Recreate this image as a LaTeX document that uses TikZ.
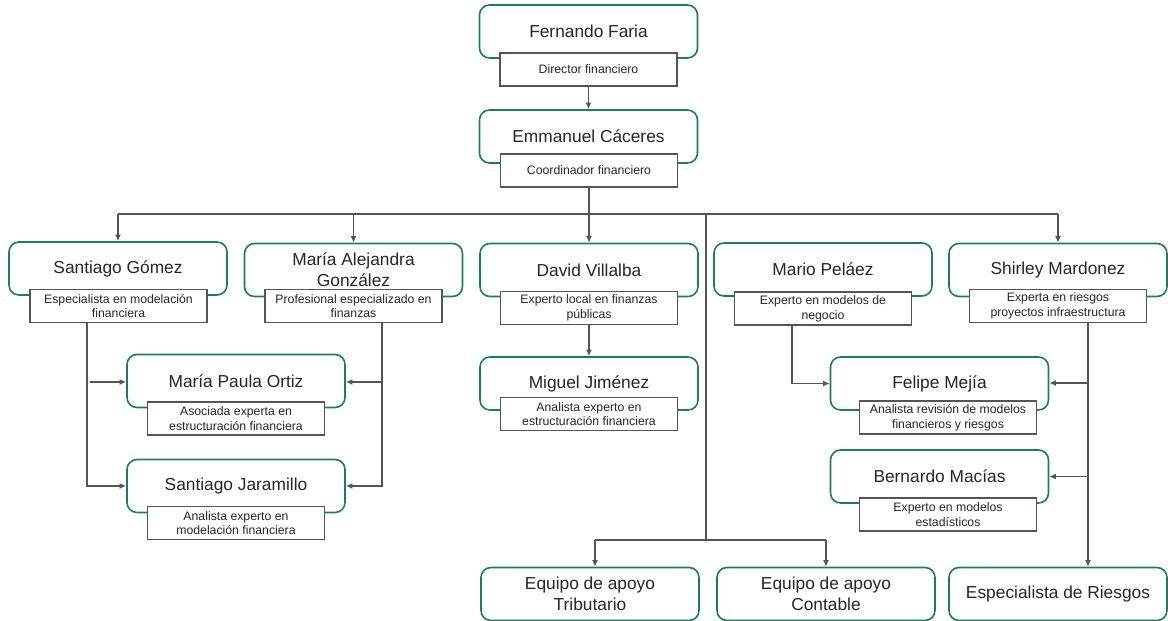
\documentclass[tikz,border=0pt]{standalone}
\usepackage{fontspec}
\setmainfont{Liberation Sans}
\usepackage{tikz}
\usetikzlibrary{arrows.meta}
\definecolor{verde}{RGB}{28,124,98}
\definecolor{gris}{RGB}{85,85,85}

\begin{document}
\begin{tikzpicture}[x=0.75pt,y=-0.75pt,>={Latex[length=5pt,width=4.5pt]},draw=gris]
    \tikzstyle{persona}=[draw=verde,line width=1.2pt,rounded corners=7.5pt,fill=white,minimum width=163.5pt,minimum height=39.75pt,inner sep=0pt,align=center,font=\fontsize{13}{15.75}\selectfont,text=black!85]
    \tikzstyle{cargo}=[draw=gris,line width=1.2pt,fill=white,minimum width=132.75pt,minimum height=24.75pt,inner sep=0pt,align=center,font=\fontsize{9.2}{11}\selectfont,text=black!85]
    \tikzstyle{linea}=[draw=gris,line width=1pt]
    \tikzstyle{flecha}=[linea,->]

\useasboundingbox (0,0) rectangle (1168,621);

\node[persona] (fern) at (588.5,31.5) {Fernando Faria};
\node[cargo] (fernC) at (588.5,69.5) {Director financiero};
\node[persona] (emma) at (588.5,136.5) {Emmanuel Cáceres};
\node[cargo] (emmaC) at (589,170.5) {Coordinador financiero};

\node[persona] (sgom) at (118,268.5) {Santiago Gómez};
\node[cargo] (sgomC) at (118.5,306) {Especialista en modelación\\financiera};
\node[persona] (male) at (353.5,270) {María Alejandra\\González};
\node[cargo] (maleC) at (353.5,306) {Profesional especializado en\\finanzas};
\node[persona] (dvil) at (589,270) {David Villalba};
\node[cargo] (dvilC) at (589,308) {Experto local en finanzas\\públicas};
\node[persona] (mpel) at (823,269.5) {Mario Peláez};
\node[cargo] (mpelC) at (823,308.5) {Experto en modelos de\\negocio};
\node[persona] (smar) at (1058,270) {Shirley Mardonez};
\node[cargo] (smarC) at (1058,306) {Experta en riesgos\\proyectos infraestructura};

\node[persona] (mpor) at (236,381) {María Paula Ortiz};
\node[cargo] (mporC) at (236,418.5) {Asociada experta en\\estructuración financiera};
\node[persona] (sjar) at (236,486) {Santiago Jaramillo};
\node[cargo] (sjarC) at (236,523) {Analista experto en\\modelación financiera};
\node[persona] (mjim) at (589,383.5) {Miguel Jiménez};
\node[cargo] (mjimC) at (589,414) {Analista experto en\\estructuración financiera};
\node[persona] (fmej) at (939.5,383.5) {Felipe Mejía};
\node[cargo] (fmejC) at (948,417.5) {Analista revisión de modelos\\financieros y riesgos};
\node[persona] (bmac) at (939.5,476.5) {Bernardo Macías};
\node[cargo] (bmacC) at (948,514.5) {Experto en modelos\\estadísticos};

\node[persona] (eqtr) at (590,594) {Equipo de apoyo\\Tributario};
\node[persona] (eqco) at (826,594) {Equipo de apoyo\\Contable};
\node[persona] (espr) at (1058,594) {Especialista de Riesgos};

\coordinate (bus) at (589,214);
\coordinate (eje) at (706,214);
\coordinate (eqbus) at (706,540);
\coordinate (eqL) at (595,540);
\coordinate (eqR) at (826,540);
\coordinate (sgV) at (87,382);
\coordinate (sgS) at (90,382);
\coordinate (maV) at (382,382);
\coordinate (mpV) at (792,383);
\coordinate (smV) at (1088,383);

\draw[flecha] (fernC) -- (emma);
\draw[linea] (emmaC) -- (bus);
\draw[linea] (sgom.north |- bus) -- (smar.north |- bus);
\foreach \n in {sgom,male,dvil,smar}
    \draw[flecha] (\n.north |- bus) -- (\n.north);
\draw[linea] (eje) -- (eqbus);
\draw[linea] (eqL) -- (eqR);
\draw[flecha] (eqL) -- (eqL |- eqtr.north);
\draw[flecha] (eqR) -- (eqco);
\draw[flecha] (dvilC) -- (mjim);

\draw[flecha] (sgomC.south -| sgV) |- (sjar.west);
\draw[flecha] (sgS) -- (sgS -| mpor.west);
\draw[flecha] (maleC.south -| maV) |- (sjar.east);
\draw[flecha] (maV) -- (maV -| mpor.east);
\draw[flecha] (mpelC.south -| mpV) |- (fmej.west);
\draw[flecha] (smarC.south -| smV) -- (smV |- espr.north);
\draw[flecha] (smV) -- (smV -| fmej.east);
\draw[flecha] (smV |- bmac.east) -- (bmac.east);
\end{tikzpicture}
\end{document}
